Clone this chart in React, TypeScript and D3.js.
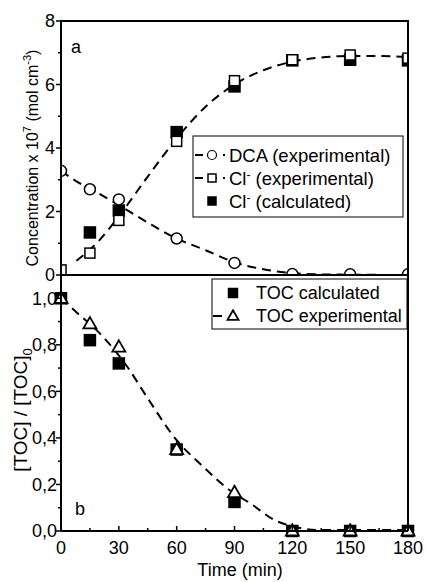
import React from "react";
import * as d3 from "d3";

// sampling times (min)
const times = [0, 15, 30, 60, 90, 120, 150, 180];

// panel a: concentration x 10^7 (mol cm-3)
const dcaExp = [3.28, 2.7, 2.38, 1.15, 0.38, 0.03, 0.02, 0.02];
const clExp = [0.16, 0.69, 1.72, 4.21, 6.12, 6.78, 6.93, 6.83];
const clCalcTimes = [15, 30, 60, 90, 120, 150, 180];
const clCalc = [1.34, 2.03, 4.5, 5.94, 6.76, 6.78, 6.76];

// dashed fit curves, panel a
const dcaFitT = [0, 8, 15, 30, 45, 60, 75, 90, 105, 120, 135, 150, 180];
const dcaFit = [3.28, 2.95, 2.72, 2.2, 1.65, 1.15, 0.78, 0.4, 0.18, 0.06, 0.02, 0.01, 0.0];
const clFitT = [8, 15, 20, 30, 45, 60, 75, 90, 105, 120, 135, 150, 165, 180];
const clFit = [0.45, 0.8, 1.1, 1.85, 3.1, 4.3, 5.3, 6.0, 6.45, 6.72, 6.85, 6.9, 6.9, 6.86];

// panel b: [TOC]/[TOC]0
const tocExp = [1.0, 0.89, 0.79, 0.35, 0.165, 0.0, 0.0, 0.0];
const tocCalc = [1.0, 0.82, 0.72, 0.35, 0.125, 0.0, 0.0, 0.0];
const tocFitT = [0, 8, 20, 34, 45, 60, 72, 90, 98, 110, 124, 135, 150, 180];
const tocFit = [1.0, 0.94, 0.85, 0.71, 0.57, 0.39, 0.29, 0.16, 0.12, 0.05, 0.013, 0.004, 0.004, 0.004];

const topTicks = [0, 2, 4, 6, 8];
const topMinor = [1, 3, 5, 7];
const botTicks = [0, 0.2, 0.4, 0.6, 0.8, 1.0];
const botMinor = [0.1, 0.3, 0.5, 0.7, 0.9];
const xTicks = [0, 30, 60, 90, 120, 150, 180];
const xMinor = [15, 45, 75, 105, 135, 165];

const font = "'Liberation Sans', Arial, sans-serif";

export default function App() {
  const left = 61, right = 408;
  const x = d3.scaleLinear().domain([0, 180]).range([left, right]);
  const yA = d3.scaleLinear().domain([0, 8]).range([275, 21]);
  const yB = d3.scaleLinear().domain([0, 1.1]).range([531, 275]);

  const lineA = d3.line<number>().curve(d3.curveMonotoneX);
  const dcaPath = lineA(dcaFitT.map((t, i) => [x(t), yA(dcaFit[i])]) as any);
  const clPath = lineA(clFitT.map((t, i) => [x(t), yA(clFit[i])]) as any);
  const tocPath = lineA(tocFitT.map((t, i) => [x(t), yB(tocFit[i])]) as any);

  const sq = (cx: number, cy: number, s: number, filled: boolean, key?: any) => (
    <rect key={key} x={cx - s / 2} y={cy - s / 2} width={s} height={s}
      fill={filled ? "#000" : "#fff"} stroke="#000" strokeWidth={1.5} />
  );
  const tri = (cx: number, cy: number, s: number, key?: any) => {
    const h = s * 0.87;
    return (
      <path key={key} d={`M${cx},${cy - h * 0.6}L${cx + s / 2},${cy + h * 0.4}L${cx - s / 2},${cy + h * 0.4}Z`}
        fill="#fff" stroke="#000" strokeWidth={1.8} />
    );
  };
  const dash = "9,6";

  return (
    <svg width={427} height={582} style={{ position: "absolute", left: 0, top: 0, background: "#fff" }}
      fontFamily={font}>
      <defs>
        <clipPath id="clipA">
          <rect x={left} y={21} width={right - left} height={254} />
        </clipPath>
      </defs>

      {/* panel a */}
      <g clipPath="url(#clipA)">
        <path d={dcaPath!} fill="none" stroke="#000" strokeWidth={2} strokeDasharray={dash} />
        <path d={clPath!} fill="none" stroke="#000" strokeWidth={2} strokeDasharray={dash} />
        {clCalcTimes.map((t, i) => sq(x(t), yA(clCalc[i]), 11, true, "cc" + i))}
        {times.map((t, i) => sq(x(t), yA(clExp[i]), 10, false, "ce" + i))}
        {times.map((t, i) => (
          <circle key={"d" + i} cx={x(t)} cy={yA(dcaExp[i])} r={5.5} fill="#fff" stroke="#000" strokeWidth={1.5} />
        ))}
      </g>
      <rect x={left} y={21} width={right - left} height={254} fill="none" stroke="#000" strokeWidth={2} />
      {topTicks.map((v) => (
        <g key={"ta" + v}>
          <line x1={left - 5} x2={left} y1={yA(v)} y2={yA(v)} stroke="#000" strokeWidth={1.5} />
          <text x={55} y={yA(v)} dy="0.36em" textAnchor="end" fontSize={18}>{v}</text>
        </g>
      ))}
      {topMinor.map((v) => (
        <line key={"tm" + v} x1={left - 3} x2={left} y1={yA(v)} y2={yA(v)} stroke="#000" strokeWidth={1.5} />
      ))}
      <text x={71} y={53} fontSize={18}>a</text>
      <text transform="translate(38,158) rotate(-90)" textAnchor="middle" fontSize={16}>
        Concentration x 10<tspan dy={-7} fontSize={11}>7</tspan>
        <tspan dy={7}> (mol cm</tspan><tspan dy={-7} fontSize={11}>-3</tspan><tspan dy={7}>)</tspan>
      </text>

      {/* legend a */}
      <rect x={193} y={136} width={210} height={81} fill="#fff" stroke="#000" strokeWidth={1} />
      <line x1={195} x2={225} y1={155} y2={155} stroke="#000" strokeWidth={2} strokeDasharray="8,6" />
      <circle cx={212} cy={155} r={4.5} fill="#fff" stroke="#000" strokeWidth={1.2} />
      <text x={229} y={155} dy="0.36em" fontSize={18.5}>DCA (experimental)</text>
      <line x1={195} x2={225} y1={178} y2={178} stroke="#000" strokeWidth={2} strokeDasharray="8,6" />
      {sq(212, 178, 8, false)}
      <text x={229} y={178} dy="0.36em" fontSize={18.5}>Cl<tspan dy={-6} fontSize={12}>-</tspan><tspan dy={6}> (experimental)</tspan></text>
      {sq(212, 201, 8, true)}
      <text x={229} y={201} dy="0.36em" fontSize={18.5}>Cl<tspan dy={-6} fontSize={12}>-</tspan><tspan dy={6}> (calculated)</tspan></text>

      {/* panel b */}
      <path d={tocPath!} fill="none" stroke="#000" strokeWidth={2} strokeDasharray={dash} />
      {times.map((t, i) => sq(x(t), yB(tocCalc[i]), 11, true, "tc" + i))}
      {times.map((t, i) => tri(x(t), yB(tocExp[i]), 13, "te" + i))}
      <line x1={left} x2={left} y1={275} y2={531} stroke="#000" strokeWidth={2} />
      <line x1={left} x2={right} y1={531} y2={531} stroke="#000" strokeWidth={2} />
      <line x1={right} x2={right} y1={275} y2={531} stroke="#000" strokeWidth={2} />
      {botTicks.map((v) => (
        <g key={"tb" + v}>
          <line x1={left - 5} x2={left} y1={yB(v)} y2={yB(v)} stroke="#000" strokeWidth={1.5} />
          <text x={57} y={yB(v)} dy="0.36em" textAnchor="end" fontSize={18}>{d3.format(".1f")(v).replace(".", ",")}</text>
        </g>
      ))}
      {botMinor.map((v) => (
        <line key={"bm" + v} x1={left - 3} x2={left} y1={yB(v)} y2={yB(v)} stroke="#000" strokeWidth={1.5} />
      ))}
      {xTicks.map((t) => (
        <g key={"xt" + t}>
          <line x1={x(t)} x2={x(t)} y1={531} y2={526} stroke="#000" strokeWidth={1.5} />
          <text x={x(t)} y={554} textAnchor="middle" fontSize={18}>{t}</text>
        </g>
      ))}
      {xMinor.map((t) => (
        <line key={"xm" + t} x1={x(t)} x2={x(t)} y1={531} y2={528} stroke="#000" strokeWidth={1.5} />
      ))}
      <text x={75} y={515} fontSize={18}>b</text>
      <text x={240} y={576} textAnchor="middle" fontSize={18}>Time (min)</text>
      <text transform="translate(27,410) rotate(-90)" textAnchor="middle" fontSize={19}>
        [TOC] / [TOC]<tspan dy={5} fontSize={13}>0</tspan>
      </text>

      {/* legend b */}
      <rect x={212} y={279} width={195} height={50} fill="#fff" stroke="#000" strokeWidth={1} />
      {sq(233, 293, 9, true)}
      <text x={256} y={293} dy="0.36em" fontSize={18}>TOC calculated</text>
      <line x1={213} x2={222} y1={316} y2={316} stroke="#000" strokeWidth={2} />
      {tri(233, 316, 11)}
      <text x={256} y={316} dy="0.36em" fontSize={18}>TOC experimental</text>
    </svg>
  );
}
